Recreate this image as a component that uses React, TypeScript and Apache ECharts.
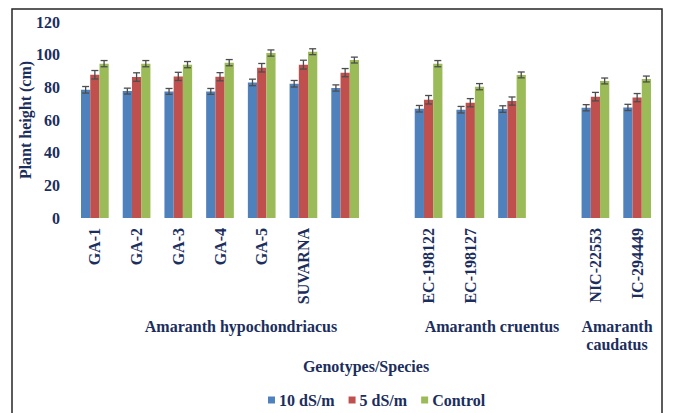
import React, { useEffect, useRef } from "react";
import * as echarts from "echarts";

// Genotypes on the category axis; empty strings leave gaps / unlabeled groups
const genotypes = [
  "GA-1", "GA-2", "GA-3", "GA-4", "GA-5", "SUVARNA", "", "",
  "EC-198122", "EC-198127", "", "", "NIC-22553", "IC-294449",
];

const seriesNames = ["10 dS/m", "5 dS/m", "Control"];

// Plant height (cm) per salinity treatment
const height10 = [78.5, 77.7, 77.5, 77.5, 83.0, 82.2, 79.6, null, 66.9, 66.3, 66.7, null, 67.5, 67.7];
const height5 = [87.7, 86.3, 86.7, 86.5, 92.0, 93.9, 89.0, null, 72.4, 70.6, 71.6, null, 74.3, 73.7];
const heightControl = [94.5, 94.5, 93.9, 95.1, 101.0, 101.8, 96.7, null, 94.5, 80.4, 87.6, null, 83.9, 85.1];

// Standard errors
const err10 = [2.0, 1.8, 1.8, 1.8, 2.0, 2.0, 1.9, null, 2.0, 2.0, 2.0, null, 1.9, 1.9];
const err5 = [2.6, 2.6, 2.5, 2.5, 2.6, 2.7, 2.5, null, 2.6, 2.5, 2.5, null, 2.6, 2.5];
const errControl = [1.9, 1.9, 1.9, 1.9, 1.9, 1.8, 1.8, null, 1.9, 1.9, 1.8, null, 1.8, 1.8];

const yTicks = { min: 0, max: 120, interval: 20 };

const colors = ["#4F81BD", "#C0504D", "#9BBB59"];
const navy = "#1B2E5C";
const FONT = "'Liberation Serif', 'Times New Roman', serif";
const CATEGORY_GAP = 0.336;

function errorSeries(values: (number | null)[], errs: (number | null)[], slot: number) {
  const data: number[][] = [];
  values.forEach((v, i) => {
    if (v != null && errs[i] != null) data.push([i, v, errs[i] as number]);
  });
  return {
    type: "custom",
    z: 5,
    silent: true,
    encode: { x: 0, y: 1 },
    renderItem: (_params: any, api: any) => {
      const idx = api.value(0);
      const v = api.value(1);
      const e = api.value(2);
      const band = api.size([1, 0])[0];
      const barW = (band * (1 - CATEGORY_GAP)) / 3;
      const top = api.coord([idx, v + e]);
      const bot = api.coord([idx, v - e]);
      const x = top[0] + (slot - 1) * barW;
      const cap = 3.5;
      const style = { stroke: "#4d4d4d", lineWidth: 1.3 };
      return {
        type: "group",
        children: [
          { type: "line", shape: { x1: x, y1: top[1], x2: x, y2: bot[1] }, style },
          { type: "line", shape: { x1: x - cap, y1: top[1], x2: x + cap, y2: top[1] }, style },
          { type: "line", shape: { x1: x - cap, y1: bot[1], x2: x + cap, y2: bot[1] }, style },
        ],
      };
    },
    data,
  };
}

export default function App() {
  const ref = useRef<HTMLDivElement>(null);

  useEffect(() => {
    if (!ref.current) return;
    const chart = echarts.init(ref.current, undefined, { renderer: "svg" });
    const textStyle = { fontFamily: FONT, fontWeight: "bold", fontSize: 16, color: navy };
    const values = [height10, height5, heightControl];

    chart.setOption({
      animation: false,
      backgroundColor: "#ffffff",
      color: colors,
      grid: { left: 74, right: 20, top: 22, bottom: 195 },
      legend: {
        data: seriesNames,
        left: 268,
        top: 392,
        padding: 0,
        icon: "rect",
        itemWidth: 7,
        itemHeight: 7,
        itemGap: 14,
        textStyle: { ...textStyle, padding: [0, 0, 0, -1] },
      },
      xAxis: {
        type: "category",
        data: genotypes,
        axisLine: { show: false },
        axisTick: { show: false },
        axisLabel: { ...textStyle, rotate: 90, margin: 10, interval: 0 },
      },
      yAxis: {
        type: "value",
        ...yTicks,
        axisLine: { show: false },
        axisTick: { show: false },
        splitLine: { show: false },
        axisLabel: { ...textStyle, margin: 14 },
      },
      series: [
        ...values.map((vals, k) => ({
          name: seriesNames[k],
          type: "bar",
          barGap: "0%",
          barCategoryGap: `${CATEGORY_GAP * 100}%`,
          data: vals.map((v) => (v == null ? "-" : v)),
          itemStyle: { color: colors[k] },
        })),
        errorSeries(height10, err10, 0),
        errorSeries(height5, err5, 1),
        errorSeries(heightControl, errControl, 2),
      ],
      graphic: [
        {
          type: "rect",
          shape: { x: 12, y: 9, width: 650, height: 430 },
          style: { fill: "none", stroke: "#262626", lineWidth: 1.5 },
          silent: true,
        },
        {
          type: "text",
          x: 25,
          y: 120,
          rotation: Math.PI / 2,
          style: {
            text: "Plant height (cm)",
            font: `bold 16px ${FONT}`,
            fill: navy,
            align: "center",
            verticalAlign: "middle",
          },
        },
        {
          type: "text",
          x: 241,
          y: 326,
          style: {
            text: "Amaranth hypochondriacus",
            font: `bold 16px ${FONT}`,
            fill: navy,
            align: "center",
            verticalAlign: "middle",
          },
        },
        {
          type: "text",
          x: 492,
          y: 326,
          style: {
            text: "Amaranth cruentus",
            font: `bold 16px ${FONT}`,
            fill: navy,
            align: "center",
            verticalAlign: "middle",
          },
        },
        {
          type: "text",
          x: 617,
          y: 335,
          style: {
            text: "Amaranth\ncaudatus",
            font: `bold 16px ${FONT}`,
            lineHeight: 18,
            fill: navy,
            align: "center",
            verticalAlign: "middle",
          },
        },
        {
          type: "text",
          x: 366,
          y: 366,
          style: {
            text: "Genotypes/Species",
            font: `bold 16px ${FONT}`,
            fill: navy,
            align: "center",
            verticalAlign: "middle",
          },
        },
      ],
    });

    return () => chart.dispose();
  }, []);

  return (
    <div
      ref={ref}
      style={{ position: "absolute", left: 0, top: 0, width: 678, height: 413 }}
    />
  );
}
